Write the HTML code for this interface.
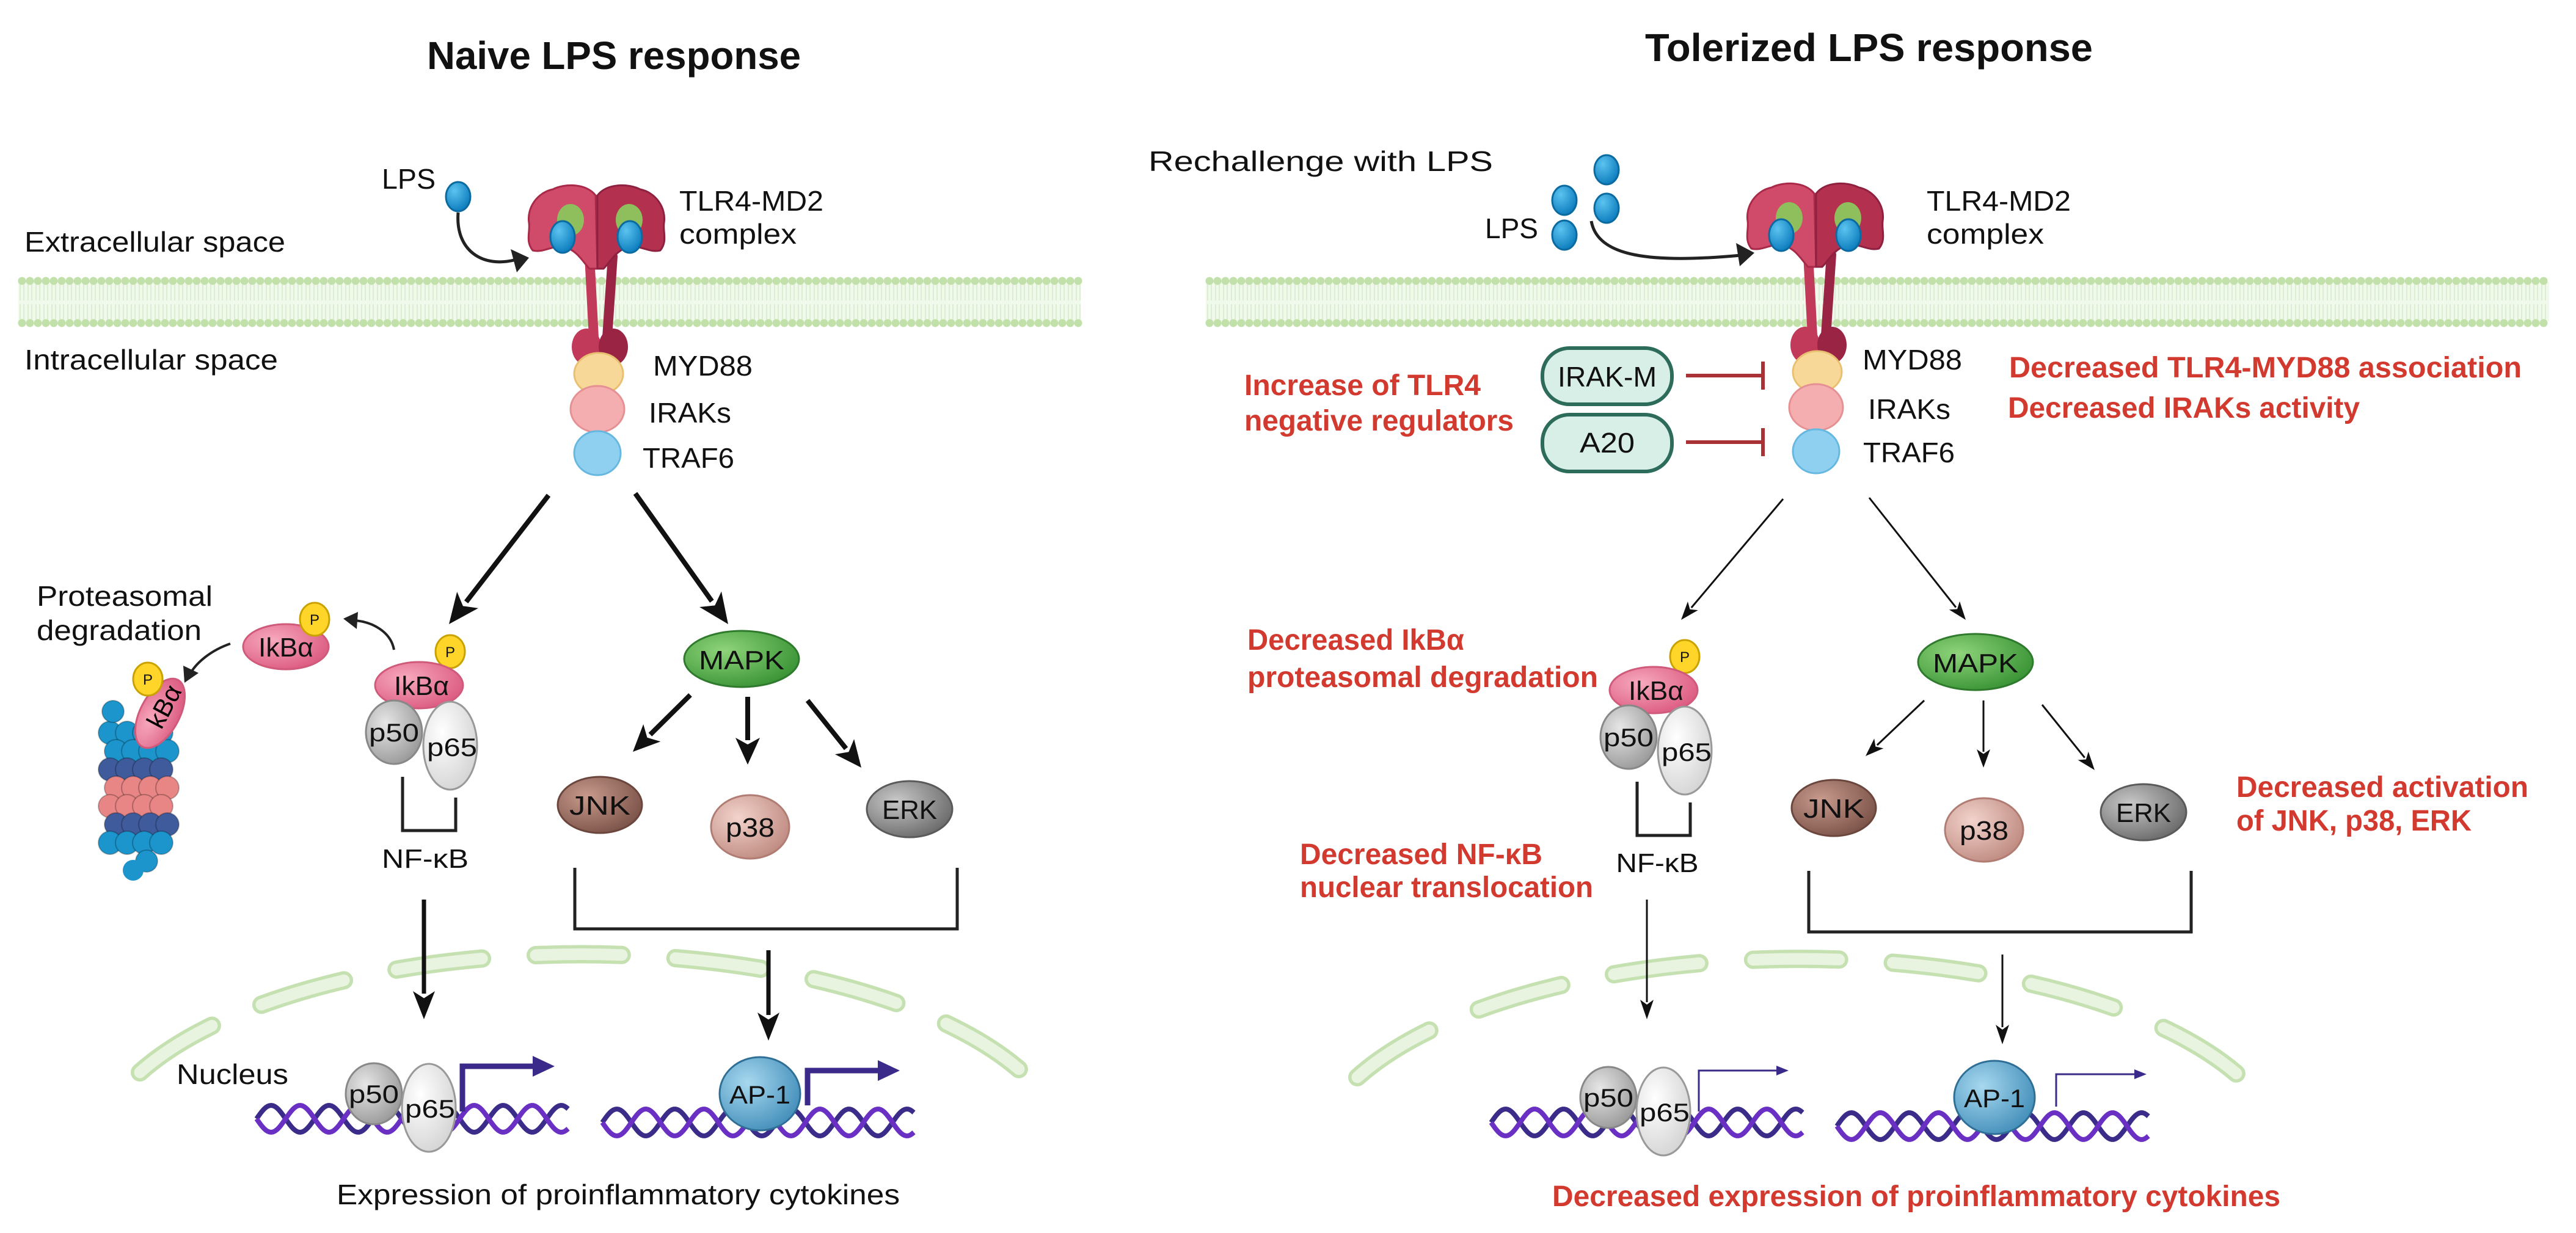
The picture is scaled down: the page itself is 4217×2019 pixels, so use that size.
<!DOCTYPE html>
<html><head><meta charset="utf-8"><style>html,body{margin:0;padding:0;background:#fff}svg{display:block}</style></head>
<body>
<svg id="s" xmlns="http://www.w3.org/2000/svg" width="4217" height="2019" viewBox="0 0 4217 2019">
<defs>
<radialGradient id="gGrey" cx="35%" cy="35%" r="70%"><stop offset="0" stop-color="#e6e6e6"/><stop offset="1" stop-color="#9a9a9a"/></radialGradient>
<radialGradient id="gWhite" cx="35%" cy="35%" r="70%"><stop offset="0" stop-color="#ffffff"/><stop offset="1" stop-color="#d5d5d5"/></radialGradient>
<radialGradient id="gJNK" cx="35%" cy="35%" r="70%"><stop offset="0" stop-color="#c79a8c"/><stop offset="1" stop-color="#7d544a"/></radialGradient>
<radialGradient id="gP38" cx="35%" cy="35%" r="70%"><stop offset="0" stop-color="#f2d3cc"/><stop offset="1" stop-color="#c08c82"/></radialGradient>
<radialGradient id="gERK" cx="35%" cy="35%" r="70%"><stop offset="0" stop-color="#c8c8c8"/><stop offset="1" stop-color="#6c6c6c"/></radialGradient>
<radialGradient id="gMAPK" cx="35%" cy="35%" r="70%"><stop offset="0" stop-color="#8fd47a"/><stop offset="1" stop-color="#3a9436"/></radialGradient>
<radialGradient id="gAP1" cx="35%" cy="35%" r="70%"><stop offset="0" stop-color="#a7d8ef"/><stop offset="1" stop-color="#4590bb"/></radialGradient>
<radialGradient id="gIkB" cx="35%" cy="35%" r="70%"><stop offset="0" stop-color="#f7a9bd"/><stop offset="1" stop-color="#dc5c82"/></radialGradient>
<radialGradient id="gLPS" cx="35%" cy="30%" r="70%"><stop offset="0" stop-color="#5cc3f0"/><stop offset="1" stop-color="#0f7fbf"/></radialGradient>
</defs>
<g id="root"></g>
</svg>
<script>
var R=document.getElementById('root');var h='';
function t(x,y,s,sz,o){o=o||{};var a=o.a||'start';var c=o.c||'#111';var w=o.b?'bold':'normal';
var tl=o.w?' textLength="'+o.w+'" lengthAdjust="spacingAndGlyphs"':'';
h+='<text x="'+x+'" y="'+y+'" font-family="Liberation Sans, sans-serif" font-size="'+sz+'" font-weight="'+w+'" fill="'+c+'" text-anchor="'+a+'"'+tl+'>'+s+'</text>';}
function arrow(x1,y1,x2,y2,sw,hl,hw,col){col=col||'#111';var dx=x2-x1,dy=y2-y1,L=Math.hypot(dx,dy),ux=dx/L,uy=dy/L;
var bx=x2-ux*hl,by=y2-uy*hl;h+='<line x1="'+x1+'" y1="'+y1+'" x2="'+(bx+ux*4)+'" y2="'+(by+uy*4)+'" stroke="'+col+'" stroke-width="'+sw+'"/>';
var px=-uy,py=ux;h+='<polygon points="'+x2+','+y2+' '+(bx+px*hw/2)+','+(by+py*hw/2)+' '+(bx+ux*hl*0.25)+','+(by+uy*hl*0.25)+' '+(bx-px*hw/2)+','+(by-py*hw/2)+'" fill="'+col+'"/>';}
function ell(cx,cy,rx,ry,f,st){h+='<ellipse cx="'+cx+'" cy="'+cy+'" rx="'+rx+'" ry="'+ry+'" fill="'+f+'" stroke="'+(st||'none')+'" stroke-width="3"/>';}
function membrane(x1,x2){h+='<rect x="'+x1+'" y="462" width="'+(x2-x1)+'" height="64" fill="#f1f8ec"/>';
for(var x=x1+6;x<x2;x+=13){h+='<path d="M'+(x-3)+',466 L'+(x-3)+',492 M'+(x+3)+',466 L'+(x+3)+',492 M'+(x-3)+',498 L'+(x-3)+',523 M'+(x+3)+',498 L'+(x+3)+',523" stroke="#d6eac8" stroke-width="1.5"/>';
h+='<circle cx="'+x+'" cy="460" r="6.5" fill="#c2e0aa"/><circle cx="'+x+'" cy="529" r="6.5" fill="#c2e0aa"/>';}}
function receptor(){h+='<path d="M965,420 L972,552" stroke="#c23a5a" stroke-width="16" stroke-linecap="round"/><path d="M1003,420 L994,552" stroke="#9a2444" stroke-width="16" stroke-linecap="round"/>';
h+='<ellipse cx="960" cy="568" rx="24" ry="30" fill="#c23a5a"/><ellipse cx="1004" cy="568" rx="24" ry="30" fill="#9a2444"/>';
h+='<path d="M975,320 C960,300 925,300 905,310 C880,315 862,340 866,365 C868,380 860,395 872,410 C890,415 905,400 925,405 C945,410 955,430 965,440 L978,440 Z" fill="#d04a6a" stroke="#a82a48" stroke-width="3"/>';
h+='<path d="M978,320 C993,300 1028,300 1048,310 C1073,315 1091,340 1087,365 C1085,380 1093,395 1081,410 C1063,415 1048,400 1028,405 C1008,410 998,430 988,440 L978,440 Z" fill="#b3304f" stroke="#8e2040" stroke-width="3"/>';
ell(934,360,22,26,'#8fbe5c');ell(1030,360,22,26,'#8fbe5c');ell(921,388,20,26,'url(#gLPS)','#0b6aa0');ell(1031,388,20,26,'url(#gLPS)','#0b6aa0');
ell(980,612,40,34,'#f8d899','#e8c070');ell(978,670,44,38,'#f4aeb0','#e59194');ell(978,742,38,36,'#8fd0f0','#66b8e0');}
function P(x,y){ell(x,y,24,27,'#ffd52a','#c9a200');t(x,y+9,'P',24,{a:'middle'});}
function nfkb(dx,dy){P(737+dx,1067+dy);ell(686+dx,1122+dy,72,38,'url(#gIkB)','#d05a7a');t(690+dx,1138+dy,'IkBα',44,{a:'middle',w:90});
ell(645+dx,1199+dy,46,52,'url(#gGrey)','#888');ell(737+dx,1221+dy,44,72,'url(#gWhite)','#999');
t(645+dx,1214+dy,'p50',42,{a:'middle',w:82});t(740+dx,1238+dy,'p65',42,{a:'middle',w:82});
h+='<path d="M'+(659+dx)+','+(1272+dy)+' L'+(659+dx)+','+(1360+dy)+' L'+(746+dx)+','+(1360+dy)+' L'+(746+dx)+','+(1306+dy)+'" fill="none" stroke="#222" stroke-width="5"/>';}
function kin(dx,dy){ell(1214+dx,1079+dy,94,46,'url(#gMAPK)','#2f7a2c');t(1214+dx,1096+dy,'MAPK',44,{a:'middle',w:140});
ell(982+dx,1318+dy,69,46,'url(#gJNK)','#6b463d');t(982+dx,1334+dy,'JNK',44,{a:'middle',w:100});
ell(1228+dx,1354+dy,64,52,'url(#gP38)','#b07c73');t(1228+dx,1370+dy,'p38',44,{a:'middle',w:80});
ell(1489+dx,1325+dy,70,46,'url(#gERK)','#5a5a5a');t(1489+dx,1341+dy,'ERK',44,{a:'middle',w:90});
h+='<path d="M'+(941+dx)+','+(1421+dy)+' L'+(941+dx)+','+(1521+dy)+' L'+(1567+dx)+','+(1521+dy)+' L'+(1567+dx)+','+(1421+dy)+'" fill="none" stroke="#222" stroke-width="5"/>';}
function env(x1,x2,y){var d='M'+x1+','+y+' A800 339 0 0 1 '+x2+','+y;
h+='<path d="'+d+'" fill="none" stroke="#c6e1b1" stroke-width="30" stroke-linecap="round" stroke-dasharray="141 88"/>';
h+='<path d="'+d+'" fill="none" stroke="#e9f4e0" stroke-width="19" stroke-linecap="round" stroke-dasharray="141 88"/>';}
function dna(x1,x2,cy){var a='',b='';for(var x=x1;x<=x2;x+=3){var p=2*Math.PI*(x-x1)/95;a+=(x==x1?'M':'L')+x+','+(cy+22*Math.sin(p)).toFixed(1);b+=(x==x1?'M':'L')+x+','+(cy-22*Math.sin(p)).toFixed(1);}
h+='<path d="'+b+'" fill="none" stroke="#3b2c8a" stroke-width="8"/><path d="'+a+'" fill="none" stroke="#6a30c4" stroke-width="8"/>';}
function gene(x,y,y2,x2,sw,hl,hw){h+='<path d="M'+x+','+y+' L'+x+','+y2+' L'+(x2-hl+2)+','+y2+'" fill="none" stroke="#3b2a8a" stroke-width="'+sw+'"/>';
h+='<polygon points="'+x2+','+y2+' '+(x2-hl)+','+(y2-hw/2)+' '+(x2-hl)+','+(y2+hw/2)+'" fill="#3b2a8a"/>';}
function nucleus(dx,dy,thick){dna(420+dx,932+dx,1832+dy);dna(986+dx,1497+dx,1838+dy);
ell(612+dx,1791+dy,46,50,'url(#gGrey)','#888');ell(702+dx,1814+dy,44,72,'url(#gWhite)','#999');
t(612+dx,1806+dy,'p50',42,{a:'middle',w:82});t(704+dx,1830+dy,'p65',42,{a:'middle',w:82});
if(thick){gene(757,1820,1746,908,9,36,34);gene(1322,1810,1753,1473,9,36,34);}
else{gene(2781,1820,1753,2928,3,20,16);gene(3366,1812,1759,3514,3,20,16);}
ell(1244+dx,1791+dy,66,60,'url(#gAP1)','#2f6f96');t(1244+dx,1807+dy,'AP-1',42,{a:'middle',w:100});}

t(699,113,'Naive LPS response',64,{b:1,w:612});
membrane(30,1769);
t(40,412,'Extracellular space',46,{w:427});t(40,605,'Intracellular space',46,{w:415});
t(625,309,'LPS',46,{w:88});ell(750,322,20,24,'url(#gLPS)','#0b6aa0');
h+='<path d="M750,348 C745,410 790,440 845,425" fill="none" stroke="#222" stroke-width="5"/><polygon points="866,422 836,408 846,446" fill="#222"/>';
receptor();
t(1112,345,'TLR4-MD2',46,{w:236});t(1112,399,'complex',46,{w:192});
t(1069,615,'MYD88',46,{w:163});t(1062,692,'IRAKs',46,{w:135});t(1052,766,'TRAF6',46,{w:150});
arrow(898,811,735,1022,8,50,44);arrow(1040,808,1192,1022,8,50,44);
t(60,992,'Proteasomal',46,{w:288});t(60,1048,'degradation',46,{w:270});
var cols=['#1b95cc','#1b95cc','#3f5b9c','#e88585','#e88585','#3f5b9c','#1b95cc'];
for(var r=0;r<7;r++){for(var c=0;c<4;c++){var cx=180+c*28+(r%2?10:0),cy=1200+r*30;if(cx>290)continue;h+='<circle cx="'+cx+'" cy="'+cy+'" r="19" fill="'+cols[r]+'" stroke="rgba(0,0,0,0.25)" stroke-width="2"/>';}}
h+='<circle cx="185" cy="1165" r="18" fill="#1b95cc" stroke="rgba(0,0,0,0.25)" stroke-width="2"/><circle cx="240" cy="1410" r="18" fill="#1b95cc" stroke="rgba(0,0,0,0.25)" stroke-width="2"/><circle cx="218" cy="1425" r="17" fill="#1b95cc"/>';
h+='<g transform="rotate(-62 262 1168)"><ellipse cx="262" cy="1168" rx="62" ry="32" fill="url(#gIkB)" stroke="#d05a7a" stroke-width="3"/><text x="275" y="1183" font-family="Liberation Sans, sans-serif" font-size="42" text-anchor="middle">kBα</text></g>';
P(242,1112);
ell(468,1059,70,37,'url(#gIkB)','#d05a7a');t(468,1075,'IkBα',44,{a:'middle',w:90});P(515,1014);
h+='<path d="M645,1064 C640,1035 610,1018 580,1016" fill="none" stroke="#222" stroke-width="4"/><polygon points="562,1013 586,1002 584,1030" fill="#222"/>';
h+='<path d="M377,1054 C345,1065 322,1085 312,1102" fill="none" stroke="#222" stroke-width="4"/><polygon points="302,1118 300,1090 325,1102" fill="#222"/>';
nfkb(0,0);t(696,1421,'NF-κB',44,{a:'middle',w:142});
kin(0,0);
arrow(1130,1138,1036,1231,8,44,40);arrow(1224,1141,1224,1252,8,44,40);arrow(1322,1147,1410,1257,8,44,40);
env(229,1674,1756);
arrow(694,1473,694,1669,7,46,36);arrow(1258,1556,1258,1704,7,46,36);
t(289,1775,'Nucleus',46,{w:183});
nucleus(0,0,true);
t(551,1972,'Expression of proinflammatory cytokines',46,{w:922});

t(2693,100,'Tolerized LPS  response',64,{b:1,w:733});
membrane(1974,4173);
t(1880,280,'Rechallenge with LPS',46,{w:564});
t(2431,390,'LPS',46,{w:87});
ell(2630,278,20,24,'url(#gLPS)','#0b6aa0');ell(2561,328,20,24,'url(#gLPS)','#0b6aa0');ell(2630,341,20,24,'url(#gLPS)','#0b6aa0');ell(2561,385,20,24,'url(#gLPS)','#0b6aa0');
h+='<path d="M2605,362 C2615,420 2700,432 2850,418" fill="none" stroke="#222" stroke-width="5"/><polygon points="2872,414 2842,398 2848,436" fill="#222"/>';
h+='<g transform="translate(1995,-3)">';receptor();h+='</g>';
t(3154,345,'TLR4-MD2',46,{w:236});t(3154,399,'complex',46,{w:192});
t(3049,605,'MYD88',46,{w:163});t(3058,686,'IRAKs',46,{w:135});t(3050,757,'TRAF6',46,{w:150});
h+='<rect x="2525" y="570" width="212" height="92" rx="44" fill="#d8efe7" stroke="#2d6b5a" stroke-width="6"/>';
h+='<rect x="2525" y="679" width="212" height="93" rx="44" fill="#d8efe7" stroke="#2d6b5a" stroke-width="6"/>';
t(2631,633,'IRAK-M',46,{a:'middle',w:162});t(2631,741,'A20',46,{a:'middle',w:90});
h+='<path d="M2760,615 L2886,615 M2886,592 L2886,638 M2760,724 L2886,724 M2886,701 L2886,747" stroke="#a83236" stroke-width="6"/>';
var RED='#d23a30';
t(2037,647,'Increase of TLR4',48,{b:1,c:RED,w:387});t(2037,705,'negative regulators',48,{b:1,c:RED,w:441});
t(3289,618,'Decreased TLR4-MYD88 association',48,{b:1,c:RED,w:839});t(3287,684,'Decreased IRAKs activity',48,{b:1,c:RED,w:576});
arrow(2919,817,2752,1015,3,30,22);arrow(3060,815,3218,1015,3,30,22);
t(2042,1064,'Decreased IkBα',48,{b:1,c:RED,w:355});t(2042,1125,'proteasomal degradation',48,{b:1,c:RED,w:574});
nfkb(2021,8);t(2713,1428,'NF-κB',44,{a:'middle',w:135});
t(2128,1415,'Decreased NF-κB',48,{b:1,c:RED,w:397});t(2128,1469,'nuclear translocation',48,{b:1,c:RED,w:480});
kin(2020,5);
arrow(3150,1147,3054,1238,3,30,22);arrow(3247,1147,3247,1257,3,30,22);arrow(3343,1154,3429,1261,3,30,22);
t(3661,1305,'Decreased activation',48,{b:1,c:RED,w:478});t(3661,1360,'of JNK, p38, ERK',48,{b:1,c:RED,w:385});
env(2222,3668,1764);
arrow(2696,1473,2696,1669,3,32,22);arrow(3278,1563,3278,1710,3,32,22);
nucleus(2021,6,false);
t(2541,1975,'Decreased expression of proinflammatory cytokines',48,{b:1,c:RED,w:1192});
R.innerHTML=h;
</script>
</body></html>
